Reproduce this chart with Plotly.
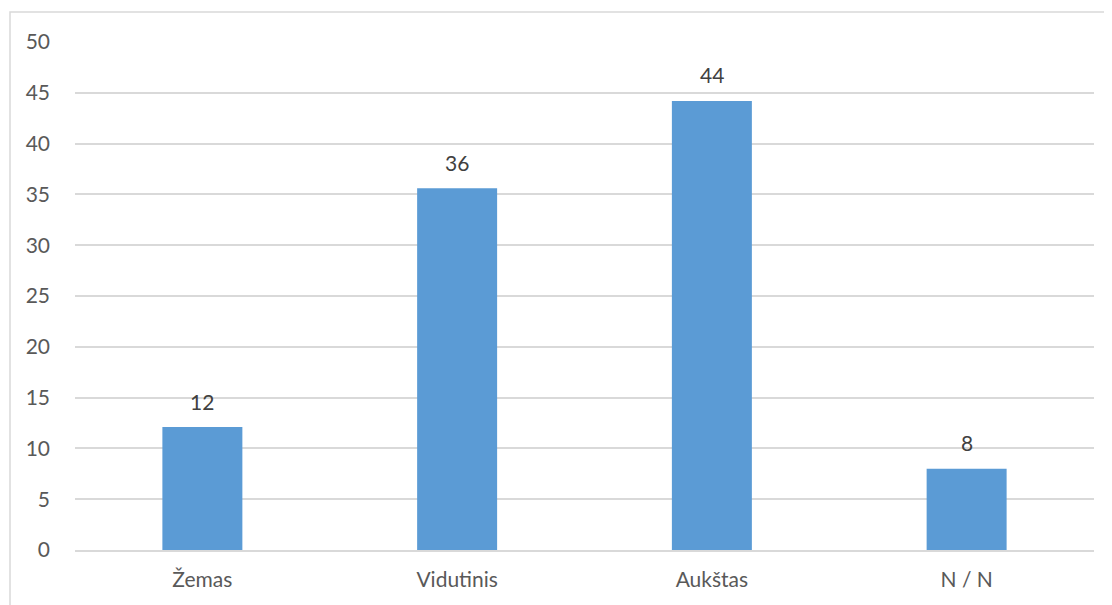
import plotly.graph_objects as go

categories = ["Žemas", "Vidutinis", "Aukštas", "N / N"]
values = [12.1, 35.6, 44.2, 8.0]
labels = ["12", "36", "44", "8"]
y_ticks = [0, 5, 10, 15, 20, 25, 30, 35, 40, 45, 50]

W, H = 1112, 605
OFF = 8  # page body margin offset
# target plot area in window pixels
PX0, PX1, PY0, PY1 = 75, 1094, 42, 550
L, T = PX0 - OFF, PY0 - OFF
R = W - (PX1 - OFF)
B = H - (PY1 - OFF)
pw, ph = W - L - R, H - T - B

def px_x(x):
    return (x - OFF - L) / pw

def px_y(y):
    return (PY1 - y) / ph

FONT = "Lato, Open Sans, sans-serif"
FS = 21

fig = go.Figure(go.Bar(
    x=categories, y=values,
    marker=dict(color="#5b9bd5", line=dict(width=0)),
    hoverinfo="skip",
))

for c, v, t in zip(categories, values, labels):
    fig.add_annotation(x=c, y=v, text=t, showarrow=False, yanchor="middle",
                       yshift=26, font=dict(family=FONT, size=FS, color="#404040"))

fig.update_layout(
    width=W, height=H,
    margin=dict(l=L, r=R, t=T, b=B, pad=0),
    paper_bgcolor="white", plot_bgcolor="white",
    font=dict(family=FONT, color="#595959", size=FS),
    bargap=0.686,
    showlegend=False,
    xaxis=dict(showgrid=False, showline=True, linecolor="#d9d9d9", linewidth=1.5,
               ticks="", tickfont=dict(size=FS, color="#595959"), ticklabelstandoff=10,
               automargin=False),
    yaxis=dict(range=[0, 50], tickvals=y_ticks, showgrid=True, gridcolor="#d9d9d9",
               gridwidth=1.5, zeroline=False, showline=False, ticks="",
               tickfont=dict(size=FS, color="#595959"), ticklabelstandoff=24,
               automargin=False),
    shapes=[dict(type="rect", xref="paper", yref="paper",
                 x0=px_x(10), x1=1.2, y0=-0.3, y1=px_y(12),
                 line=dict(color="#d9d9d9", width=1.5), fillcolor="rgba(0,0,0,0)",
                 layer="below")],
)

fig.write_html("out.html")
